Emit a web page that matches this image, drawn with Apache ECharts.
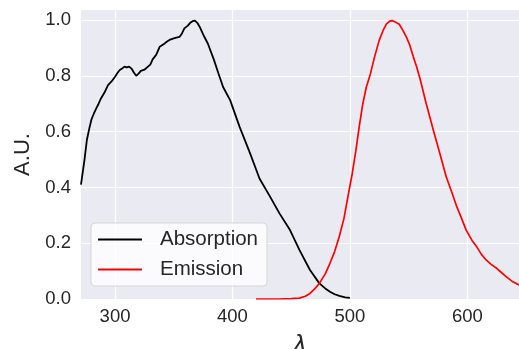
<!DOCTYPE html>
<html>
<head>
<meta charset="utf-8">
<script src="https://cdn.jsdelivr.net/npm/echarts@6/dist/echarts.min.js"></script>
<style>
  html, body { margin: 0; padding: 0; background: #fff; }
  #chart { width: 519px; height: 349px; }
</style>
</head>
<body>
<div id="chart"></div>
<script>
// absorption spectrum (wavelength, normalised intensity)
var absWl = [271, 273, 274, 276, 278, 280, 282, 284, 286, 288, 291, 294, 297, 300, 302, 304, 306, 308, 310, 311,
  312, 314, 316, 318, 320, 322, 325, 328, 330, 332, 335, 338, 341, 344, 347, 350, 353, 355, 357, 359,
  362, 364, 366, 368, 370, 372, 376, 379, 384, 388, 392, 398, 406, 415, 423, 432, 440, 449, 457,
  466, 474, 479, 483, 487, 491, 496, 500];
var absVal = [0.41, 0.47, 0.50, 0.57, 0.61, 0.645, 0.665, 0.683, 0.70, 0.719, 0.74, 0.767, 0.78, 0.797, 0.81, 0.821, 0.826, 0.833, 0.83, 0.836,
  0.833, 0.826, 0.812, 0.80, 0.808, 0.818, 0.822, 0.833, 0.84, 0.859, 0.875, 0.904, 0.912, 0.922, 0.93, 0.934, 0.938, 0.94, 0.952, 0.97,
  0.98, 0.99, 0.996, 0.998, 0.99, 0.976, 0.94, 0.916, 0.86, 0.809, 0.76, 0.713, 0.618, 0.522, 0.432, 0.367, 0.307, 0.247, 0.176,
  0.104, 0.056, 0.038, 0.026, 0.017, 0.011, 0.006, 0.004];

// emission spectrum
var emWl = [420, 440, 450, 457, 462, 466, 470, 474, 479, 483, 487, 491, 495, 498, 502, 505, 508, 511, 514, 517,
  521, 525, 528, 531, 534, 536, 539, 542, 545, 548, 551, 554, 557, 560, 565, 571, 577, 582, 587, 591,
  595, 599, 604, 608, 612, 616, 620, 625, 629, 633, 638, 644];
var emVal = [0.0, 0.0, 0.001, 0.003, 0.01, 0.02, 0.036, 0.056, 0.09, 0.128, 0.17, 0.225, 0.29, 0.36, 0.45, 0.53, 0.62, 0.70, 0.76, 0.80,
  0.868, 0.928, 0.96, 0.985, 0.996, 0.998, 0.992, 0.985, 0.964, 0.94, 0.91, 0.868, 0.83, 0.785, 0.70, 0.606, 0.515, 0.438, 0.38, 0.331,
  0.29, 0.247, 0.21, 0.187, 0.16, 0.14, 0.125, 0.11, 0.095, 0.08, 0.064, 0.05];

var xTicks = [300, 400, 500, 600];
var yTicks = [0, 0.2, 0.4, 0.6, 0.8, 1.0];

function pairs(xs, ys) {
  return xs.map(function (x, i) { return [x, ys[i]]; });
}

var myChart = echarts.init(document.getElementById("chart"));
var textColor = "#262626";
var font = "Liberation Sans, Arial, sans-serif";

var option = {
  animation: false,
  textStyle: { fontFamily: font, color: textColor },
  grid: {
    left: 81, right: 0, top: 10, bottom: 50,
    outerBoundsMode: "none",
    show: true, backgroundColor: "#EAEAF2", borderWidth: 0
  },
  legend: {
    orient: "vertical",
    left: 91, top: 223,
    padding: [6, 9, 6, 7],
    icon: "rect",
    itemWidth: 44, itemHeight: 2, itemGap: 9,
    backgroundColor: "rgba(255,255,255,0.8)",
    borderColor: "#d6d6d6", borderWidth: 1, borderRadius: 4,
    textStyle: { fontSize: 20.5, color: textColor, fontFamily: font, padding: [0, 0, 0, 13] },
    data: ["Absorption", "Emission"]
  },
  xAxis: {
    type: "value",
    min: 271, max: 644,
    name: "λ",
    nameLocation: "middle",
    nameGap: 36,
    nameTextStyle: { fontSize: 23, fontStyle: "italic", color: textColor, fontFamily: "DejaVu Sans, sans-serif" },
    axisLine: { show: false },
    axisTick: { show: false, customValues: xTicks },
    axisLabel: { customValues: xTicks, fontSize: 18.5, color: textColor, margin: 8 },
    splitLine: { show: true, lineStyle: { color: "#ffffff", width: 1.2 } }
  },
  yAxis: {
    type: "value",
    min: 0, max: 1.036,
    name: "A.U.",
    nameLocation: "middle",
    nameGap: 44,
    nameRotate: 90,
    nameTextStyle: { fontSize: 22, color: textColor },
    axisLine: { show: false },
    axisTick: { show: false, customValues: yTicks },
    axisLabel: {
      customValues: yTicks, fontSize: 18.5, color: textColor, margin: 10,
      formatter: function (v) { return v.toFixed(1); }
    },
    splitLine: { show: true, lineStyle: { color: "#ffffff", width: 1.2 } }
  },
  series: [
    {
      name: "Absorption",
      type: "line",
      data: pairs(absWl, absVal),
      showSymbol: false, symbol: "none",
      lineStyle: { color: "#000000", width: 1.8 },
      itemStyle: { color: "#000000" }
    },
    {
      name: "Emission",
      type: "line",
      data: pairs(emWl, emVal),
      showSymbol: false, symbol: "none",
      lineStyle: { color: "#ff0000", width: 1.7 },
      itemStyle: { color: "#ff0000" }
    }
  ]
};

option && myChart.setOption(option);
</script>
</body>
</html>
